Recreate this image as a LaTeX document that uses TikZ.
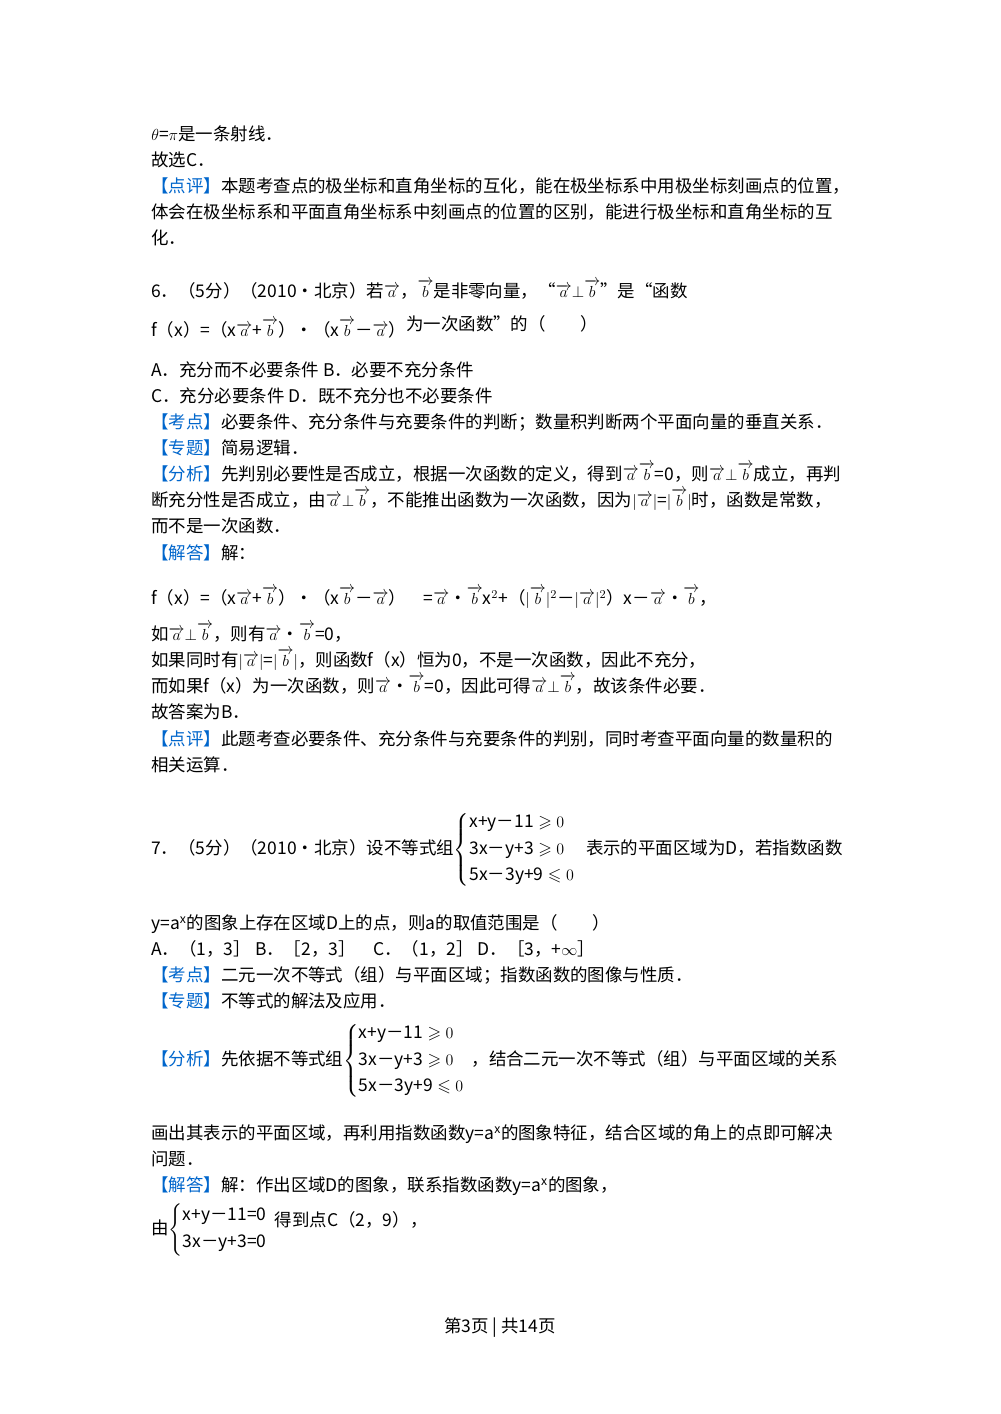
\documentclass[tikz,border=0pt]{standalone}
\usepackage{amsmath,amssymb}
\usepackage{fontspec}
\setmainfont{Noto Sans CJK SC}
\definecolor{kb}{RGB}{0,102,204}
\newcommand{\va}{$\overrightarrow{a}$}
\newcommand{\vb}{$\overrightarrow{b}$}
\newcommand{\tg}[1]{\textcolor{kb}{【#1】}}
\begin{document}
\begin{tikzpicture}[x=0.75pt,y=-0.75pt,
  t/.style={anchor=base west,inner sep=0pt,yshift=-4.5pt,font=\fontsize{13.1}{15}\selectfont}]
\fill[white] (0,0) rectangle (1000,1414);
\useasboundingbox (0,0) rectangle (1000,1414);
\node[t] (l1) at (151,134) {$\theta$=$\pi$是一条射线．};
\node[t] (l2) at (151,160) {故选C．};
\node[t] (l3) at (151,186) {\tg{点评}本题考查点的极坐标和直角坐标的互化，能在极坐标系中用极坐标刻画点的位置，};
\node[t] (l4) at (151,212) {体会在极坐标系和平面直角坐标系中刻画点的位置的区别，能进行极坐标和直角坐标的互};
\node[t] (l5) at (151,238) {化．};
\node[t] (p6) at (151,291) {6．（5分）（2010•北京）若\va，\vb 是非零向量，“\va$\perp$\vb”是“函数};
\node[t] (p6b) at (151,330) {f（x）=（x\va+\vb）•（x\vb－\va）\raisebox{4pt}{为一次函数”的（\quad\quad）}};
\node[t] (oA) at (151,370) {A．充分而不必要条件 B．必要不充分条件};
\node[t] (oC) at (151,396) {C．充分必要条件 D．既不充分也不必要条件};
\node[t] (k1) at (151,422) {\tg{考点}必要条件、充分条件与充要条件的判断；数量积判断两个平面向量的垂直关系．};
\node[t] (k2) at (151,448) {\tg{专题}简易逻辑．};
\node[t] (k3) at (151,474) {\tg{分析}先判别必要性是否成立，根据一次函数的定义，得到\va\vb=0，则\va$\perp$\vb 成立，再判};
\node[t] (k4) at (151,500) {断充分性是否成立，由\va$\perp$\vb，不能推出函数为一次函数，因为$|\overrightarrow{a}|$=$|\overrightarrow{b}|$时，函数是常数，};
\node[t] (k5) at (151,526) {而不是一次函数．};
\node[t] (k6) at (151,553) {\tg{解答}解：};
\node[t] (k7) at (151,598) {f（x）=（x\va+\vb）•（x\vb－\va）\quad =\va•\vb x$^2$+（$|\overrightarrow{b}|^2$－$|\overrightarrow{a}|^2$）x－\va•\vb，};
\node[t] (k8) at (151,634) {如\va$\perp$\vb，则有\va•\vb=0，};
\node[t] (k9) at (151,660) {如果同时有$|\overrightarrow{a}|$=$|\overrightarrow{b}|$，则函数f（x）恒为0，不是一次函数，因此不充分，};
\node[t] (k10) at (151,686) {而如果f（x）为一次函数，则\va•\vb=0，因此可得\va$\perp$\vb，故该条件必要．};
\node[t] (k11) at (151,712) {故答案为B．};
\node[t] (k12) at (151,739) {\tg{点评}此题考查必要条件、充分条件与充要条件的判别，同时考查平面向量的数量积的};
\node[t] (k13) at (151,765) {相关运算．};
\node[t] (p7) at (151,848) {7．（5分）（2010•北京）设不等式组$\left\{\begin{array}{@{}l}\text{x+y－11}\geqslant 0\\[5pt]\text{3x－y+3}\geqslant 0\\[5pt]\text{5x－3y+9}\leqslant 0\end{array}\right.$ 表示的平面区域为D，若指数函数};
\node[t] (q1) at (151,923) {y=a$^{\text{x}}$的图象上存在区域D上的点，则a的取值范围是（\quad\quad）};
\node[t] (q2) at (151,949) {A．（1，3］ B．［2，3］\quad C．（1，2］ D．［3，+$\infty$］};
\node[t] (q3) at (151,975) {\tg{考点}二元一次不等式（组）与平面区域；指数函数的图像与性质．};
\node[t] (q4) at (151,1001) {\tg{专题}不等式的解法及应用．};
\node[t] (q5) at (151,1059) {\tg{分析}先依据不等式组$\left\{\begin{array}{@{}l}\text{x+y－11}\geqslant 0\\[5pt]\text{3x－y+3}\geqslant 0\\[5pt]\text{5x－3y+9}\leqslant 0\end{array}\right.$，结合二元一次不等式（组）与平面区域的关系};
\node[t] (q6) at (151,1133) {画出其表示的平面区域，再利用指数函数y=a$^{\text{x}}$的图象特征，结合区域的角上的点即可解决};
\node[t] (q7) at (151,1159) {问题．};
\node[t] (q8) at (151,1185) {\tg{解答}解：作出区域D的图象，联系指数函数y=a$^{\text{x}}$的图象，};
\node[t] (q9) at (151,1228) {由$\left\{\begin{array}{@{}l}\text{x+y－11=0}\\[5pt]\text{3x－y+3=0}\end{array}\right.$\raisebox{6pt}{得到点C（2，9），}};
\node[anchor=base,inner sep=0pt,yshift=-4.5pt,font=\fontsize{13.1}{15}\selectfont] (ft) at (500,1326) {第3页 | 共14页};
\end{tikzpicture}
\end{document}
